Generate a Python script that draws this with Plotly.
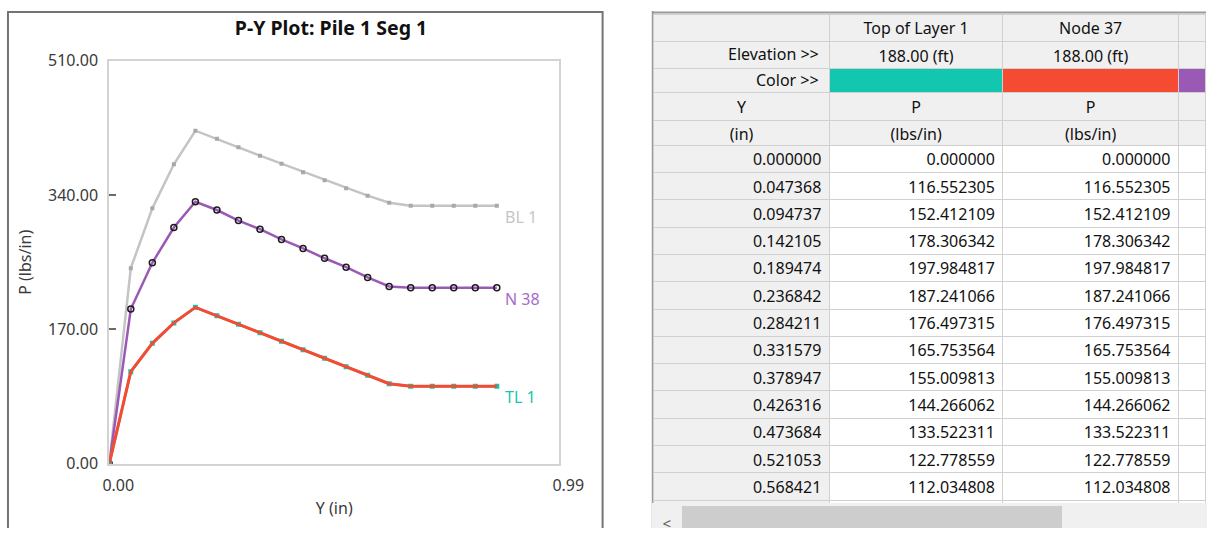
import plotly.graph_objects as go

# ---- P-Y curve data -------------------------------------------------------
Y_IN = [0.000000, 0.047368, 0.094737, 0.142105, 0.189474, 0.236842, 0.284211,
        0.331579, 0.378947, 0.426316, 0.473684, 0.521053, 0.568421, 0.615789,
        0.663158, 0.710526, 0.757895, 0.805263, 0.852632]

# Top of Layer 1 (TL 1) and Node 37 share the same curve
P_TOP_LAYER_1 = [0.000000, 116.552305, 152.412109, 178.306342, 197.984817,
                 187.241066, 176.497315, 165.753564, 155.009813, 144.266062,
                 133.522311, 122.778559, 112.034808, 101.291057,
                 98.0, 98.0, 98.0, 98.0, 98.0]
P_NODE_37 = list(P_TOP_LAYER_1)

# Node 38 (N 38)
P_NODE_38 = [0.0, 195.8, 254.4, 299.0, 331.6, 321.2, 307.8, 296.9, 284.0,
             272.6, 260.1, 248.8, 235.8, 224.5, 222.8, 222.8, 222.8, 222.8, 222.8]

# Bottom of Layer 1 (BL 1)
P_BOTTOM_LAYER_1 = [0.0, 247.6, 323.3, 379.1, 421.6, 411.5, 400.6, 390.0, 379.9,
                    369.0, 358.8, 348.7, 339.4, 330.5, 326.5, 326.5, 326.5, 326.5, 326.5]

X_TICKS = [0.0, 0.99]
X_TICK_TEXT = ["0.00", "0.99"]
Y_TICKS = [0, 170, 340, 510]
Y_TICK_TEXT = ["0.00", "170.00", "340.00", "510.00"]

# ---- grid contents ------------------------------------------------------------
COL_NAMES = ["Top of Layer 1", "Node 37"]
ELEVATIONS = ["188.00 (ft)", "188.00 (ft)"]
ROW_LABELS = ["Elevation >>", "Color >>"]
TABLE_ROWS = 14  # rows visible in the grid window

C_TEAL = "#13c6b0"
C_RED = "#f44b32"
C_PURPLE = "#9b59b6"
C_GREY = "#c4c4c4"

W, H = 1231, 539
FONT = "Noto Sans"
BLANK = "\u00a0"
CLEAR = "rgba(0,0,0,0)"


def px(x):
    return x / W


def py(y):
    return 1 - y / H


fig = go.Figure()

# ---- curves -----------------------------------------------------------------
fig.add_trace(go.Scatter(
    x=Y_IN, y=P_BOTTOM_LAYER_1, mode="lines+markers", name="BL 1",
    line=dict(color=C_GREY, width=2.5),
    marker=dict(symbol="square", size=4, color="#a8a8a8"),
))
fig.add_trace(go.Scatter(
    x=Y_IN, y=P_NODE_38, mode="lines+markers", name="N 38",
    line=dict(color=C_PURPLE, width=2.5),
    marker=dict(symbol="circle-open", size=6, color="#1c1c1c", line=dict(width=1.5)),
))
fig.add_trace(go.Scatter(
    x=Y_IN, y=P_TOP_LAYER_1, mode="lines+markers", name="TL 1",
    line=dict(color=C_TEAL, width=2.5),
    marker=dict(symbol="square", size=5, color=C_TEAL),
))
fig.add_trace(go.Scatter(
    x=Y_IN, y=P_NODE_37, mode="lines", name="Node 37",
    line=dict(color=C_RED, width=3),
))

# curve end labels
for text, ys, col in [("BL 1", P_BOTTOM_LAYER_1, "#c6c6c6"),
                      ("N 38", P_NODE_38, "#a66bc9"),
                      ("TL 1", P_TOP_LAYER_1, "#1cc4b0")]:
    fig.add_annotation(x=Y_IN[-1], y=ys[-1], xref="x", yref="y", text=text,
                       showarrow=False, xanchor="left", yanchor="top",
                       xshift=6, yshift=2,
                       font=dict(family=FONT, size=16, color=col))

# ---- grid (table) -------------------------------------------------------------
LINE = dict(color="#d0d0d0", width=1)
HDR = "#f0f0f0"
ROW_H = 27.3
TOP = 3.5
COLW = [180, 178, 180, 28]
GRID_X0 = 664
tx0 = px(GRID_X0)
tfont = dict(family=FONT, size=16, color="#111111")


def row_y(r):
    return TOP + r * ROW_H


def band(r0, r1):
    return [max(0.0, py(row_y(r1))), py(row_y(r0))]


# rows 0-2: column names, elevations, colour swatches
# (the first-column labels of rows 1-2 are set as annotations over a grey backing)
fig.add_trace(go.Table(
    domain=dict(x=[tx0, 1], y=band(0, 3)),
    columnwidth=COLW,
    header=dict(values=[BLANK, COL_NAMES[0], COL_NAMES[1], BLANK],
                fill_color=HDR, align="center", height=ROW_H, line=LINE, font=tfont),
    cells=dict(
        values=[[BLANK, BLANK],
                [ELEVATIONS[0], BLANK],
                [ELEVATIONS[1], BLANK],
                [BLANK, BLANK]],
        fill_color=[[CLEAR, CLEAR], [HDR, C_TEAL], [HDR, C_RED], [HDR, C_PURPLE]],
        align="center",
        height=ROW_H, line=LINE, font=tfont,
    ),
))

# rows 3-4: quantity and units
fig.add_trace(go.Table(
    domain=dict(x=[tx0, 1], y=band(3, 5)),
    columnwidth=COLW,
    header=dict(values=["Y", "P", "P", BLANK], fill_color=HDR, align="center",
                height=ROW_H, line=LINE, font=tfont),
    cells=dict(
        values=[["(in)"], ["(lbs/in)"], ["(lbs/in)"], [BLANK]],
        fill_color=HDR, align="center",
        height=ROW_H, line=LINE, font=tfont,
    ),
))

# data rows (first one carried by the header line)
n = TABLE_ROWS
col_y = [f"{v:.6f}" for v in Y_IN[:n]]
col_tl = [f"{v:.6f}" for v in P_TOP_LAYER_1[:n]]
col_n37 = [f"{v:.6f}" for v in P_NODE_37[:n]]
fig.add_trace(go.Table(
    domain=dict(x=[tx0, 1], y=[0, py(row_y(5))]),
    columnwidth=COLW,
    header=dict(values=[col_y[0], col_tl[0], col_n37[0], BLANK],
                fill_color=[HDR, "white", "white", "white"], align="right",
                height=ROW_H, line=LINE, font=tfont),
    cells=dict(
        values=[col_y[1:], col_tl[1:], col_n37[1:], [BLANK] * (n - 1)],
        fill_color=[[HDR] * (n - 1), ["white"] * (n - 1), ["white"] * (n - 1),
                    ["white"] * (n - 1)],
        align="right",
        height=ROW_H, line=LINE, font=tfont,
    ),
))

# horizontal scrollbar strip along the bottom of the grid
fig.add_trace(go.Table(
    domain=dict(x=[tx0, 1], y=[0, py(515)]),
    columnwidth=[27, 394, 146],
    header=dict(values=["<", BLANK, BLANK],
                fill_color=[HDR, "#cdcdcd", HDR], align="center",
                height=24, line=dict(color=HDR, width=3),
                font=dict(family=FONT, size=15, color="#555555")),
))

# first-column labels of the elevation and colour rows
label_right = GRID_X0 + COLW[0] - 8
for i, label in enumerate(ROW_LABELS):
    yc = row_y(1 + i) + ROW_H / 2
    fig.add_annotation(x=px(label_right), y=py(yc), xref="paper", yref="paper",
                       text=label, showarrow=False,
                       xanchor="right", yanchor="middle", font=tfont)

# ---- panel frames and label-cell backing ----------------------------------------
def seg(x0, y0, x1, y1, color, width=2):
    return dict(type="line", xref="paper", yref="paper",
                x0=px(x0), y0=py(y0), x1=px(x1), y1=py(y1),
                line=dict(color=color, width=width), layer="below")


shapes = [
    # grey backing behind the two label cells
    dict(type="rect", xref="paper", yref="paper",
         x0=px(GRID_X0), x1=px(GRID_X0 + COLW[0]),
         y0=py(row_y(3)), y1=py(row_y(1)),
         fillcolor=HDR, line=dict(width=0), layer="below"),
    # chart panel: left, top and right edges
    seg(1, 0, 1, H, "#747474"),
    seg(0, 1, 611.5, 1, "#747474"),
    seg(611.5, 0, 611.5, H, "#747474"),
    # grid panel: left and top edges
    seg(663, 0, 663, H, "#9a9a9a"),
    seg(663, 1.5, W, 1.5, "#9a9a9a"),
]

fig.update_layout(
    width=W, height=H,
    margin=dict(l=0, r=0, t=0, b=0),
    paper_bgcolor="white", plot_bgcolor="white",
    showlegend=False,
    shapes=shapes,
    title=dict(text="<b>P-Y Plot: Pile 1 Seg 1</b>", x=px(331), xanchor="center",
               y=py(28), yanchor="middle",
               font=dict(family=FONT, size=19.5, color="#111111")),
    xaxis=dict(domain=[px(105), px(567)], range=[0, 0.99],
               tickvals=X_TICKS, ticktext=X_TICK_TEXT, ticks="",
               showgrid=False, zeroline=False,
               showline=True, mirror=True, linecolor="#d3d3d3", linewidth=2,
               ticklabelshift=9, ticklabelstandoff=6,
               tickfont=dict(family=FONT, size=16, color="#3a3a3a"),
               title=dict(text="Y (in)", standoff=8,
                          font=dict(family=FONT, size=16, color="#3a3a3a"))),
    yaxis=dict(domain=[py(472), py(52)], range=[0, 510],
               tickvals=Y_TICKS, ticktext=Y_TICK_TEXT,
               ticks="inside", ticklen=7, tickwidth=1.5, tickcolor="#6b6b6b",
               showgrid=False, zeroline=False,
               showline=True, mirror=True, linecolor="#d3d3d3", linewidth=2,
               ticklabelstandoff=6,
               tickfont=dict(family=FONT, size=16, color="#3a3a3a"),
               title=dict(text="P (lbs/in)", standoff=12,
                          font=dict(family=FONT, size=16, color="#3a3a3a"))),
)

fig.write_html("out.html")
